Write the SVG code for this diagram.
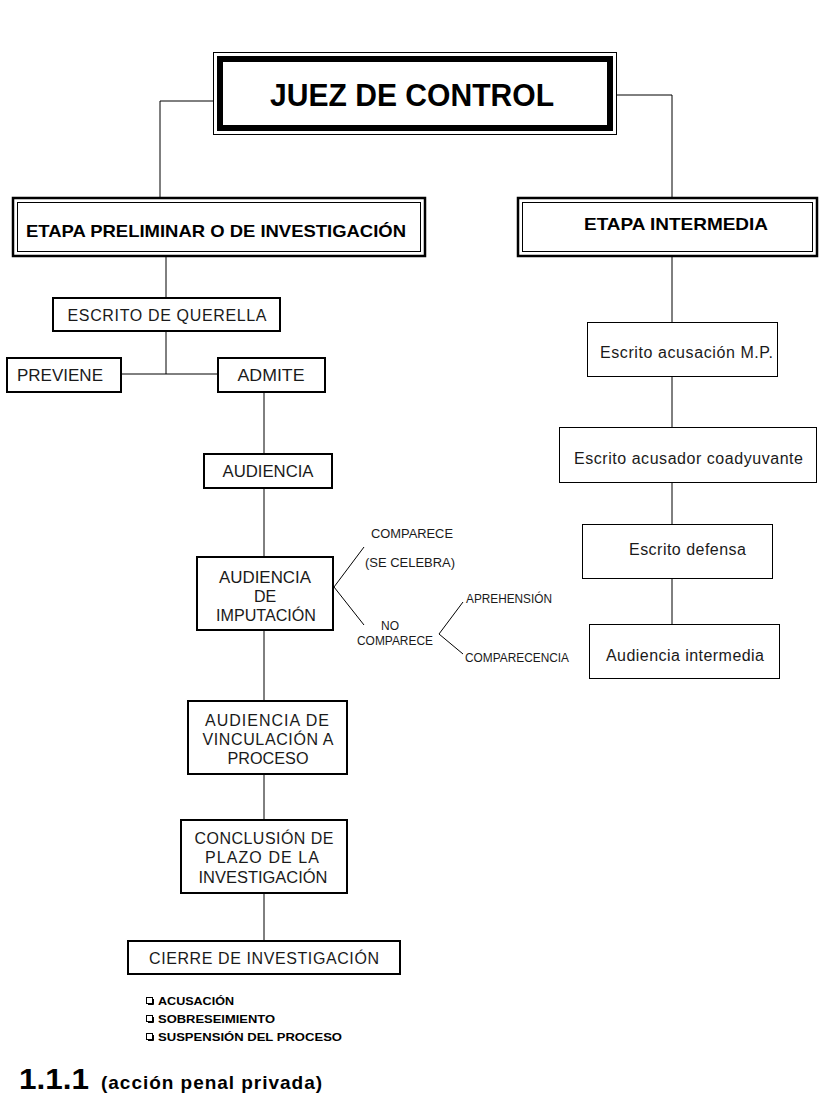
<svg xmlns="http://www.w3.org/2000/svg" width="831" height="1096" viewBox="0 0 831 1096">
<style>
text{font-family:"Liberation Sans",Arial,sans-serif;fill:#1a1a1a}
.b{font-weight:bold;fill:#000}
.n{font-size:16px}
.s{font-size:12px}
.c{text-anchor:middle}
.box2{fill:#fff;stroke:#000;stroke-width:2}
.box1{fill:#fff;stroke:#000;stroke-width:1}
.ln{stroke:#000;stroke-width:1;fill:none}
</style>
<rect width="831" height="1096" fill="#fff"/>
<g id="connectors">
<polyline class="ln" points="213,101 160,101 160,197"/>
<polyline class="ln" points="617,95 672,95 672,197"/>
<line class="ln" x1="166" y1="257" x2="166" y2="298"/>
<line class="ln" x1="166" y1="331" x2="166" y2="374"/>
<line class="ln" x1="121" y1="374" x2="218" y2="374"/>
<line class="ln" x1="264" y1="392" x2="264" y2="454"/>
<line class="ln" x1="264" y1="488" x2="264" y2="557"/>
<line class="ln" x1="264" y1="630" x2="264" y2="701"/>
<line class="ln" x1="264" y1="774" x2="264" y2="820"/>
<line class="ln" x1="264" y1="893" x2="264" y2="941"/>
<polyline class="ln" points="364,547 334,587 364,625"/>
<polyline class="ln" points="463,602 439,634 463,654"/>
<line class="ln" x1="672" y1="257" x2="672" y2="322"/>
<line class="ln" x1="672" y1="376" x2="672" y2="427"/>
<line class="ln" x1="672" y1="482" x2="672" y2="524"/>
<line class="ln" x1="672" y1="578" x2="672" y2="624"/>
</g>
<g id="juez">
<rect x="213.5" y="52.5" width="403" height="82" fill="#fff" stroke="#000" stroke-width="1"/>
<rect x="220" y="59" width="390" height="69" fill="#fff" stroke="#000" stroke-width="6"/>
<text class="b c" x="412" y="106" font-size="31" textLength="284" lengthAdjust="spacingAndGlyphs">JUEZ DE CONTROL</text>
</g>
<g id="etapa-preliminar">
<rect x="13" y="198" width="412" height="58" fill="#fff" stroke="#000" stroke-width="2.5"/>
<rect x="17.5" y="202.5" width="403" height="49" fill="none" stroke="#000" stroke-width="1"/>
<text class="b c" x="216" y="237" font-size="17" textLength="380" lengthAdjust="spacingAndGlyphs">ETAPA PRELIMINAR O DE INVESTIGACIÓN</text>
</g>
<g id="etapa-intermedia">
<rect x="518" y="198" width="299" height="58" fill="#fff" stroke="#000" stroke-width="2.5"/>
<rect x="522.5" y="202.5" width="290" height="49" fill="none" stroke="#000" stroke-width="1"/>
<text class="b c" x="676" y="230" font-size="17" textLength="184" lengthAdjust="spacingAndGlyphs">ETAPA INTERMEDIA</text>
</g>
<g id="escrito-querella">
<rect class="box2" x="53" y="298" width="227" height="33"/>
<text class="n c" x="167" y="321" textLength="199" lengthAdjust="spacing">ESCRITO  DE QUERELLA</text>
</g>
<g id="previene">
<rect class="box2" x="7" y="358" width="114" height="34"/>
<text class="n" x="17" y="381" textLength="86" lengthAdjust="spacingAndGlyphs">PREVIENE</text>
</g>
<g id="admite">
<rect class="box2" x="218" y="358" width="107" height="34"/>
<text class="n c" x="271" y="381" textLength="67" lengthAdjust="spacingAndGlyphs">ADMITE</text>
</g>
<g id="audiencia">
<rect class="box2" x="204" y="454" width="128" height="34"/>
<text class="n c" x="268" y="477" textLength="91" lengthAdjust="spacingAndGlyphs">AUDIENCIA</text>
</g>
<g id="audiencia-imputacion">
<rect class="box2" x="197" y="557" width="136" height="73"/>
<text class="n c" x="265" y="583" textLength="92" lengthAdjust="spacingAndGlyphs">AUDIENCIA</text>
<text class="n c" x="265" y="602">DE</text>
<text class="n c" x="266" y="621" textLength="100" lengthAdjust="spacingAndGlyphs">IMPUTACIÓN</text>
</g>
<g id="comparece">
<text class="s" x="371" y="538" textLength="82" lengthAdjust="spacingAndGlyphs">COMPARECE</text>
<text class="s" x="365" y="567" textLength="90" lengthAdjust="spacingAndGlyphs">(SE CELEBRA)</text>
</g>
<g id="no-comparece">
<text class="s c" x="390" y="630">NO</text>
<text class="s" x="357" y="645" textLength="76" lengthAdjust="spacingAndGlyphs">COMPARECE</text>
</g>
<g id="aprehension">
<text class="s" x="466" y="603" font-size="11" textLength="86" lengthAdjust="spacingAndGlyphs">APREHENSIÓN</text>
</g>
<g id="comparecencia">
<text class="s" x="465" y="662" font-size="11" textLength="104" lengthAdjust="spacingAndGlyphs">COMPARECENCIA</text>
</g>
<g id="audiencia-vinculacion">
<rect class="box2" x="188" y="701" width="159" height="73"/>
<text class="n c" x="267" y="726" textLength="124" lengthAdjust="spacing">AUDIENCIA  DE</text>
<text class="n c" x="268" y="745" textLength="131" lengthAdjust="spacing">VINCULACIÓN A</text>
<text class="n c" x="268" y="764" textLength="81" lengthAdjust="spacingAndGlyphs">PROCESO</text>
</g>
<g id="conclusion-plazo">
<rect class="box2" x="181" y="820" width="166" height="73"/>
<text class="n c" x="264" y="844" textLength="139" lengthAdjust="spacing">CONCLUSIÓN  DE</text>
<text class="n c" x="262" y="863" textLength="114" lengthAdjust="spacing">PLAZO DE LA</text>
<text class="n c" x="263" y="883" textLength="129" lengthAdjust="spacingAndGlyphs">INVESTIGACIÓN</text>
</g>
<g id="cierre">
<rect class="box2" x="128" y="941" width="272" height="33"/>
<text class="n c" x="264" y="964" textLength="230" lengthAdjust="spacing">CIERRE DE INVESTIGACIÓN</text>
</g>
<g id="opciones">
<rect x="146.5" y="997.5" width="6" height="6" fill="none" stroke="#000" stroke-width="1"/>
<rect x="146.5" y="1015.5" width="6" height="6" fill="none" stroke="#000" stroke-width="1"/>
<rect x="146.5" y="1033.5" width="6" height="6" fill="none" stroke="#000" stroke-width="1"/>
<polyline class="ln" points="148,1004.5 153.5,1004.5 153.5,999" />
<polyline class="ln" points="148,1022.5 153.5,1022.5 153.5,1017" />
<polyline class="ln" points="148,1040.5 153.5,1040.5 153.5,1035" />
<text class="b" x="158" y="1005" font-size="11.5" textLength="76" lengthAdjust="spacingAndGlyphs">ACUSACIÓN</text>
<text class="b" x="158" y="1023" font-size="11.5" textLength="117" lengthAdjust="spacingAndGlyphs">SOBRESEIMIENTO</text>
<text class="b" x="158" y="1041" font-size="11.5" textLength="184" lengthAdjust="spacingAndGlyphs">SUSPENSIÓN DEL PROCESO</text>
</g>
<g id="escrito-acusacion">
<rect class="box1" x="587.5" y="322.5" width="190" height="54"/>
<text class="n" x="600" y="358" textLength="173" lengthAdjust="spacing">Escrito acusación  M.P.</text>
</g>
<g id="escrito-coadyuvante">
<rect class="box1" x="559.5" y="427.5" width="257" height="55"/>
<text class="n" x="574" y="464" textLength="229" lengthAdjust="spacing">Escrito acusador  coadyuvante</text>
</g>
<g id="escrito-defensa">
<rect class="box1" x="582.5" y="524.5" width="190" height="54"/>
<text class="n" x="629" y="555" textLength="117" lengthAdjust="spacing">Escrito defensa</text>
</g>
<g id="audiencia-intermedia">
<rect class="box1" x="589.5" y="624.5" width="190" height="54"/>
<text class="n" x="606" y="661" textLength="158" lengthAdjust="spacing">Audiencia  intermedia</text>
</g>
<g id="titulo">
<text class="b" x="19" y="1089" font-size="30" textLength="70" lengthAdjust="spacingAndGlyphs">1.1.1</text>
<text class="b" x="101" y="1089" font-size="19" textLength="221" lengthAdjust="spacing">(acción penal privada)</text>
</g>
</svg>
